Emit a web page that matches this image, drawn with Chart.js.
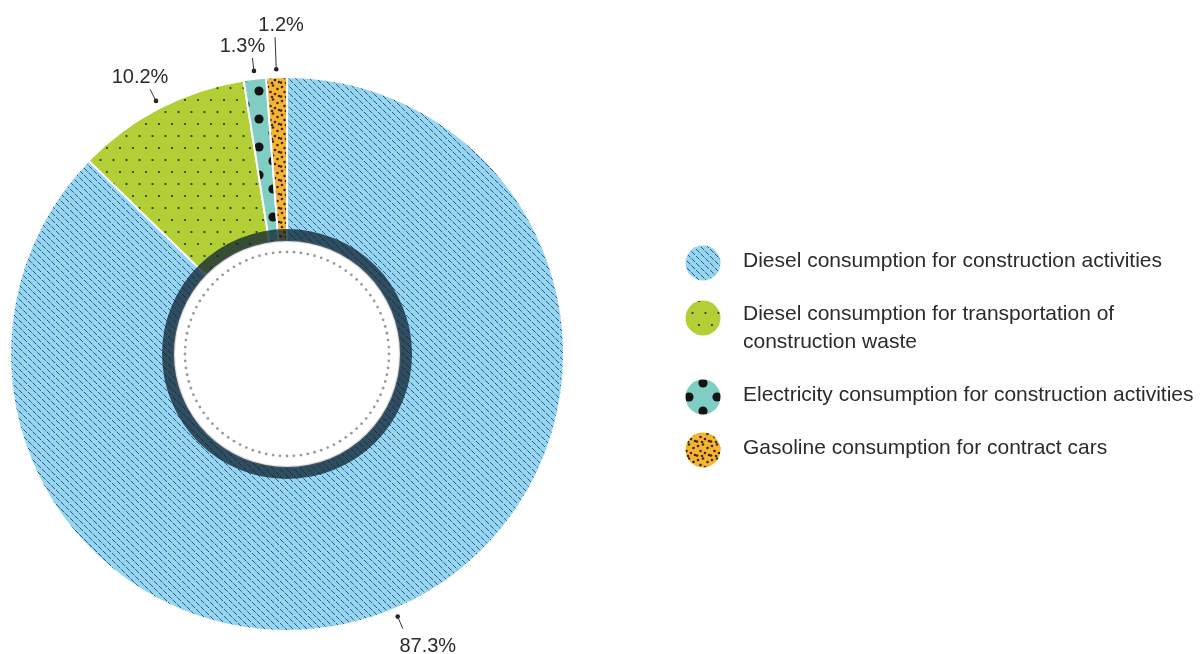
<!DOCTYPE html>
<html>
<head>
<meta charset="utf-8">
<script src="https://cdn.jsdelivr.net/npm/chart.js@4.4.0/dist/chart.umd.min.js"></script>
<style>
  html, body { margin: 0; padding: 0; background: #fff; }
  #wrap { width: 1202px; height: 654px; }
</style>
</head>
<body>
<div id="wrap"><canvas id="chart" width="1202" height="654"></canvas></div>
<script>
// data
const categories = [
  'Diesel consumption for construction activities',
  ['Diesel consumption for transportation of', 'construction waste'],
  'Electricity consumption for construction activities',
  'Gasoline consumption for contract cars'
];
const shares = [87.3, 10.2, 1.3, 1.2];
const shareLabels = ['87.3%', '10.2%', '1.3%', '1.2%'];
const baseColors = ['#96d6f5', '#b3cf36', '#80cdc3', '#f6b431'];

const FONT = '"Liberation Sans", Arial, sans-serif';

// pattern tiles
function tile(w, h, bg, draw) {
  const c = document.createElement('canvas');
  c.width = w; c.height = h;
  const g = c.getContext('2d');
  g.fillStyle = bg;
  g.fillRect(0, 0, w, h);
  draw(g, w, h);
  return g.createPattern(c, 'repeat');
}
function dots(g, pts, r, color) {
  g.fillStyle = color;
  pts.forEach(p => { g.beginPath(); g.arc(p[0], p[1], r, 0, Math.PI * 2); g.fill(); });
}

const patterns = [
  // dashed diagonal stripes, dash phase staggered between neighbouring stripes
  tile(14, 14, baseColors[0], (g, w) => {
    g.strokeStyle = '#3a5566';
    g.lineWidth = 1;
    g.setLineDash([5.2, 1.4]);
    [-14, -7, 0, 7, 14].forEach((o, k) => {
      g.lineDashOffset = (k % 2) ? 3.3 : 0;
      g.beginPath(); g.moveTo(o, 0); g.lineTo(o + w, w); g.stroke();
    });
  }),
  tile(13, 24, baseColors[1], g => dots(g, [[3, 4], [9.5, 16]], 1.1, '#1d3512')),
  tile(28, 28, baseColors[2], g => dots(g, [[7, 7], [21, 21], [-7, 21], [35, 21], [7, 35], [21, -7]], 4.6, '#141414')),
  tile(14, 14, baseColors[3], g => dots(g, [[2, 3], [7, 1.5], [11.5, 5], [4.5, 8], [9, 10], [13, 12], [1, 12.5], [6, 13]], 1.3, '#3a2a0c'))
];

// dark ring + dotted circle inside the hole
const ringPlugin = {
  id: 'ring',
  afterDatasetsDraw(chart) {
    const ctx = chart.ctx;
    const arc = chart.getDatasetMeta(0).data[0];
    const { x, y, innerRadius } = arc.getProps(['x', 'y', 'innerRadius'], true);
    ctx.save();
    ctx.beginPath();
    ctx.arc(x, y, innerRadius + 12, 0, Math.PI * 2);
    ctx.arc(x, y, innerRadius, 0, Math.PI * 2, true);
    ctx.fillStyle = 'rgba(14, 36, 50, 0.76)';
    ctx.fill();
    ctx.beginPath();
    ctx.arc(x, y, innerRadius - 0.5, 0, Math.PI * 2);
    ctx.strokeStyle = 'rgba(0,0,0,0.12)';
    ctx.lineWidth = 1.5;
    ctx.stroke();
    const r = innerRadius - 11, n = 92;
    ctx.fillStyle = '#9b9b9b';
    for (let i = 0; i < n; i++) {
      const a = i / n * Math.PI * 2;
      ctx.beginPath();
      ctx.arc(x + Math.cos(a) * r, y + Math.sin(a) * r, 1.4, 0, Math.PI * 2);
      ctx.fill();
    }
    ctx.restore();
  }
};

// percentage labels with dot + leader line
const labelPlugin = {
  id: 'pctLabels',
  afterDraw(chart) {
    const ctx = chart.ctx;
    const meta = chart.getDatasetMeta(0);
    ctx.save();
    ctx.font = '20px ' + FONT;
    ctx.textAlign = 'center';
    ctx.textBaseline = 'alphabetic';
    let prev = null;
    meta.data.forEach((arc, i) => {
      const { x, y, startAngle, endAngle, outerRadius } = arc.getProps(['x', 'y', 'startAngle', 'endAngle', 'outerRadius'], true);
      const a = (startAngle + endAngle) / 2;
      const cos = Math.cos(a), sin = Math.sin(a);
      const text = shareLabels[i];
      const w = ctx.measureText(text).width;
      const r0 = outerRadius + 8;
      let len = 13, shift = sin < 0 ? -10 : 25, ex, ey, tx, base, box;
      for (let k = 0; k < 6; k++) {
        ex = x + cos * (r0 + len);
        ey = y + sin * (r0 + len);
        tx = ex + shift;
        base = sin < 0 ? ey - 6 : ey + 23;
        box = { l: tx - w / 2, r: tx + w / 2, t: base - 15, b: base };
        if (!prev || box.l > prev.r || box.r < prev.l || box.t > prev.b || box.b < prev.t) break;
        len += 19;
        shift += 16;
      }
      ctx.fillStyle = '#222';
      ctx.beginPath();
      ctx.arc(x + cos * r0, y + sin * r0, 2.3, 0, Math.PI * 2);
      ctx.fill();
      ctx.strokeStyle = '#333';
      ctx.lineWidth = 1;
      ctx.beginPath();
      ctx.moveTo(x + cos * r0, y + sin * r0);
      ctx.lineTo(ex, ey);
      ctx.stroke();
      ctx.fillStyle = '#2b2b2b';
      ctx.fillText(text, tx, base);
      prev = box;
    });
    ctx.restore();
  }
};

// legend on the right
const legendPlugin = {
  id: 'sideLegend',
  afterDraw(chart) {
    const ctx = chart.ctx;
    ctx.save();
    ctx.font = '21px ' + FONT;
    ctx.textAlign = 'left';
    ctx.textBaseline = 'middle';
    let y = 261;
    categories.forEach((lab, i) => {
      const lines = Array.isArray(lab) ? lab : [lab];
      const my = y + 2 + (lines.length - 1) * 2;
      ctx.save();
      ctx.beginPath();
      ctx.arc(703, my, 17.5, 0, Math.PI * 2);
      ctx.translate(703 - 7, my - 21);
      ctx.fillStyle = patterns[i];
      ctx.fill();
      ctx.restore();
      ctx.fillStyle = '#2b2b2b';
      lines.forEach((t, k) => ctx.fillText(t, 743, y + k * 28));
      y += (lines.length - 1) * 28 + 53;
    });
    ctx.restore();
  }
};

new Chart(document.getElementById('chart').getContext('2d'), {
  type: 'doughnut',
  data: {
    labels: categories,
    datasets: [{
      data: shares,
      backgroundColor: patterns,
      borderColor: '#ffffff',
      borderWidth: 2
    }]
  },
  options: {
    responsive: false,
    animation: false,
    cutout: '40.8%',
    layout: { padding: { left: 9, top: 76, right: 637, bottom: 22 } },
    plugins: {
      legend: { display: false },
      tooltip: { enabled: false }
    }
  },
  plugins: [ringPlugin, labelPlugin, legendPlugin]
});
</script>
</body>
</html>
